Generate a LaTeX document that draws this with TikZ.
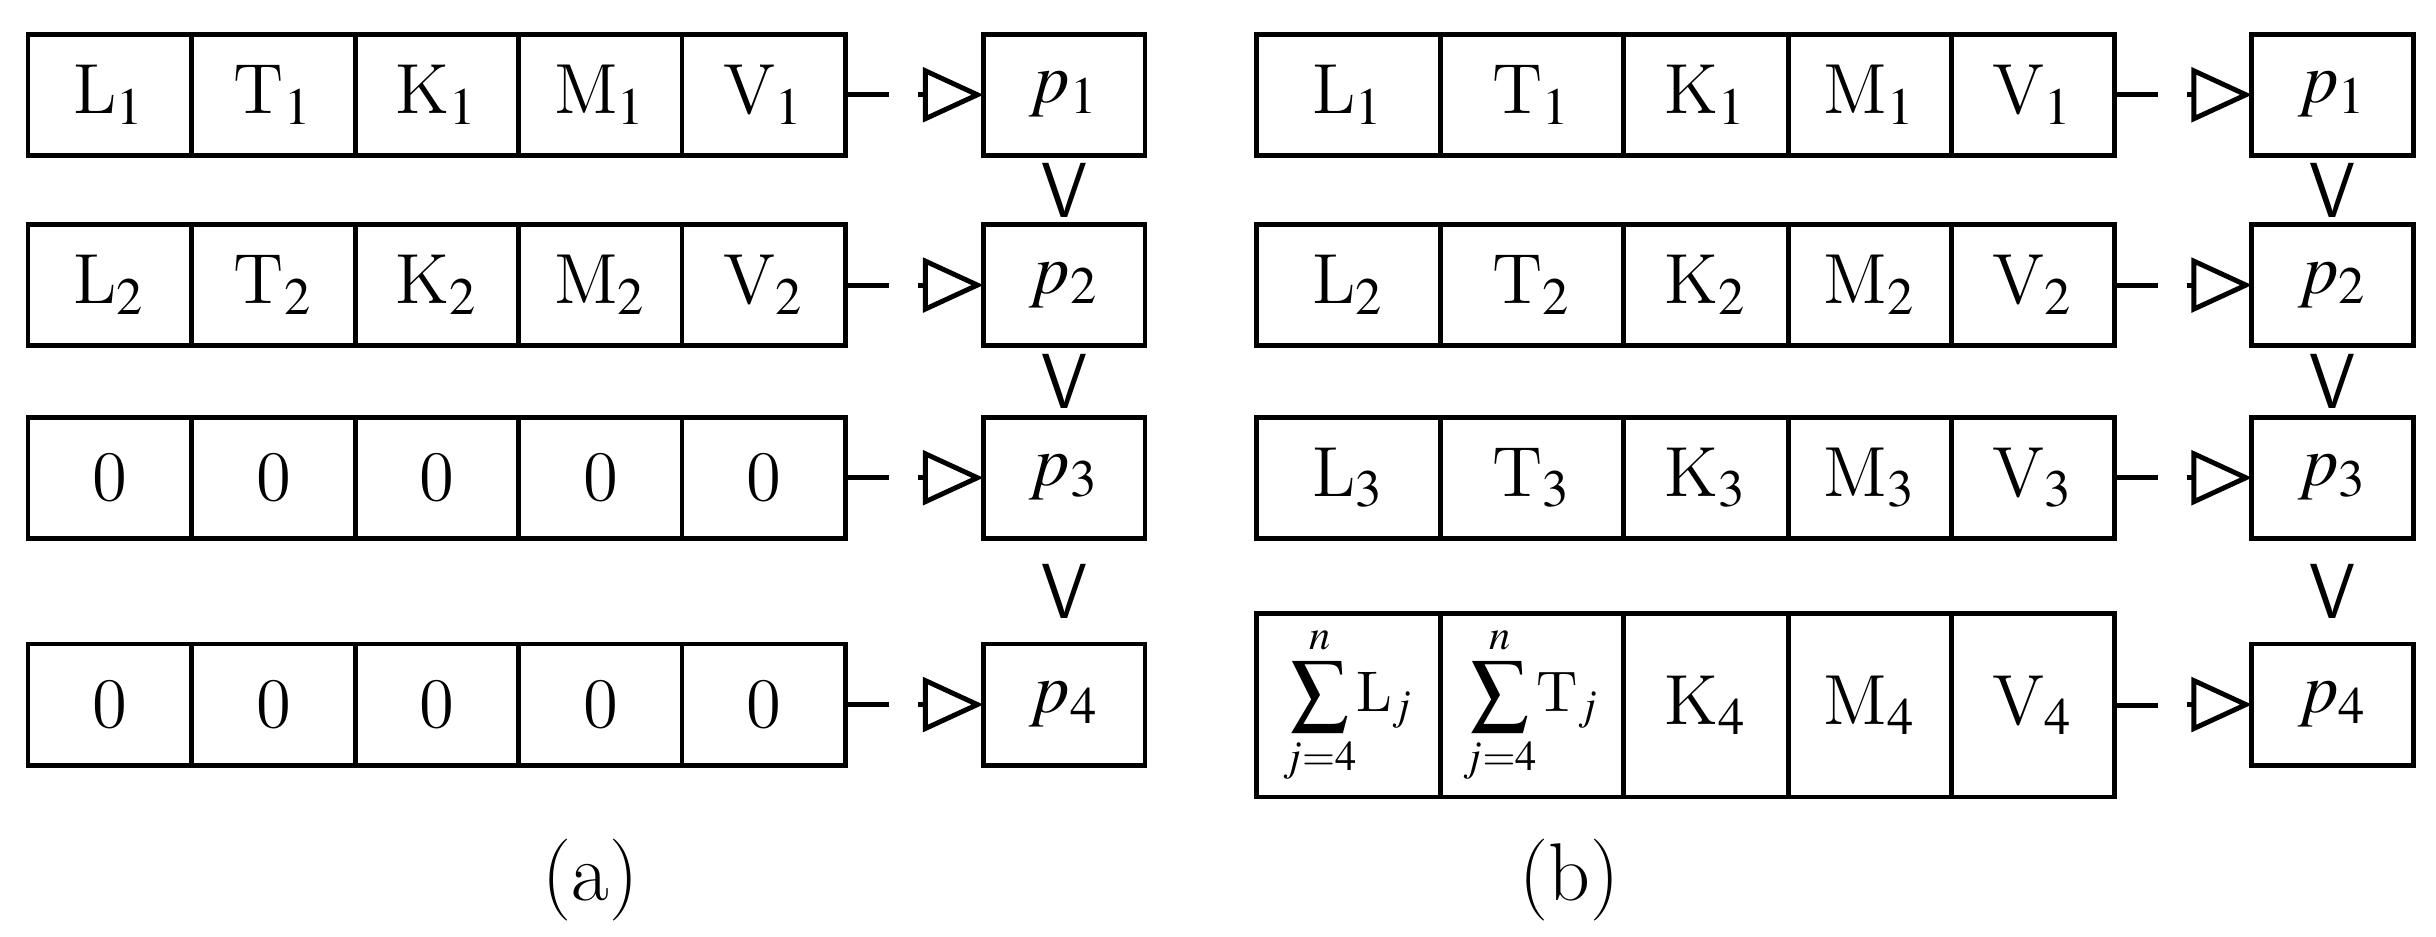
\documentclass[tikz,border=0pt]{standalone}
\usepackage{mathptmx}
\usetikzlibrary{arrows.meta, positioning}

\begin{document}
\begin{tikzpicture}[line width=0.9pt]

\tikzset{
  cell/.style={rectangle, draw, minimum height=7.8mm, inner sep=0pt, outer sep=0pt, font=\fontsize{13}{15}\selectfont},
  sumcell/.style={cell, minimum width=11.8mm, minimum height=11.8mm, font=\fontsize{10.5}{12}\selectfont},
  prob/.style={cell, minimum width=10.4mm},
  order/.style={font=\fontsize{13}{13}\selectfont\sffamily, inner sep=0pt, yscale=1.1},
  feed/.style={-{Triangle[open, length=3.9mm, width=3.5mm]}},
  capt/.style={font=\fontsize{15}{17}\selectfont}
}

\useasboundingbox (0,0) rectangle (15.68,6.025);

% --- (a) ---
\foreach \r/\y/\a/\b/\c/\d/\e in {1/5.415/L$_1$/T$_1$/K$_1$/M$_1$/V$_1$,
                                2/4.19/L$_2$/T$_2$/K$_2$/M$_2$/V$_2$,
                                3/2.95/0/0/0/0/0,
                                4/1.49/0/0/0/0/0}{
  \node[cell, minimum width=10.5mm] (aL\r) at (0.705,\y) {\a};
  \node[cell, minimum width=10.6mm, right=0pt of aL\r] (aT\r) {\b};
  \node[cell, minimum width=10.5mm, right=0pt of aT\r] (aK\r) {\c};
  \node[cell, minimum width=10.5mm, right=0pt of aK\r] (aM\r) {\d};
  \node[cell, minimum width=10.5mm, right=0pt of aM\r] (aV\r) {\e};
  \node[prob] (ap\r) at (6.85,\y) {$p_\r$};
  \coordinate (ae\r) at ([xshift=2.8mm]aV\r.east);
  \coordinate (as\r) at ([xshift=-4.2mm]ap\r.west);
  \draw (aV\r.east) -- (ae\r);
  \draw[feed] (as\r) -- (ap\r.west);
}

% --- (b) ---
\foreach \r/\y in {1/5.415, 2/4.19, 3/2.95}{
  \node[cell, minimum width=11.8mm] (bL\r) at (8.68,\y) {L$_\r$};
  \node[cell, minimum width=11.8mm, right=0pt of bL\r] (bT\r) {T$_\r$};
  \node[cell, minimum width=10.6mm, right=0pt of bT\r] (bK\r) {K$_\r$};
  \node[cell, minimum width=10.5mm, right=0pt of bK\r] (bM\r) {M$_\r$};
  \node[cell, minimum width=10.5mm, right=0pt of bM\r] (bV\r) {V$_\r$};
}
\node[sumcell] (bL4) at (8.68,1.485) {$\displaystyle\sum_{j=4}^{n}$L$_j$};
\node[sumcell] (bT4) at (9.86,1.485) {$\displaystyle\sum_{j=4}^{n}$T$_j$};
\node[cell, minimum width=10.6mm, minimum height=11.8mm] (bK4) at (10.98,1.485) {K$_4$};
\node[cell, minimum width=10.5mm, minimum height=11.8mm, right=0pt of bK4] (bM4) {M$_4$};
\node[cell, minimum width=10.5mm, minimum height=11.8mm, right=0pt of bM4] (bV4) {V$_4$};

\foreach \r/\y in {1/5.415, 2/4.19, 3/2.95, 4/1.49}{
  \node[prob] (bp\r) at (15.015,\y) {$p_\r$};
  \coordinate (be\r) at ([xshift=2.8mm]bV\r.east);
  \coordinate (bs\r) at ([xshift=-4.2mm]bp\r.west);
  \draw (bV\r.east) -- (be\r);
  \draw[feed] (bs\r) -- (bp\r.west);
}

% --- Ordnung ---
\foreach \s/\y in {1/4.8, 2/3.57, 3/2.22}{
  \node[order] (ao\s) at (6.85,\y) {V};
  \node[order] (bo\s) at (15.015,\y) {V};
}

% --- Beschriftungen ---
\node[capt] (ca) at (3.8,0.36) {(a)};
\node[capt] (cb) at (10.1,0.36) {(b)};

\end{tikzpicture}
\end{document}
